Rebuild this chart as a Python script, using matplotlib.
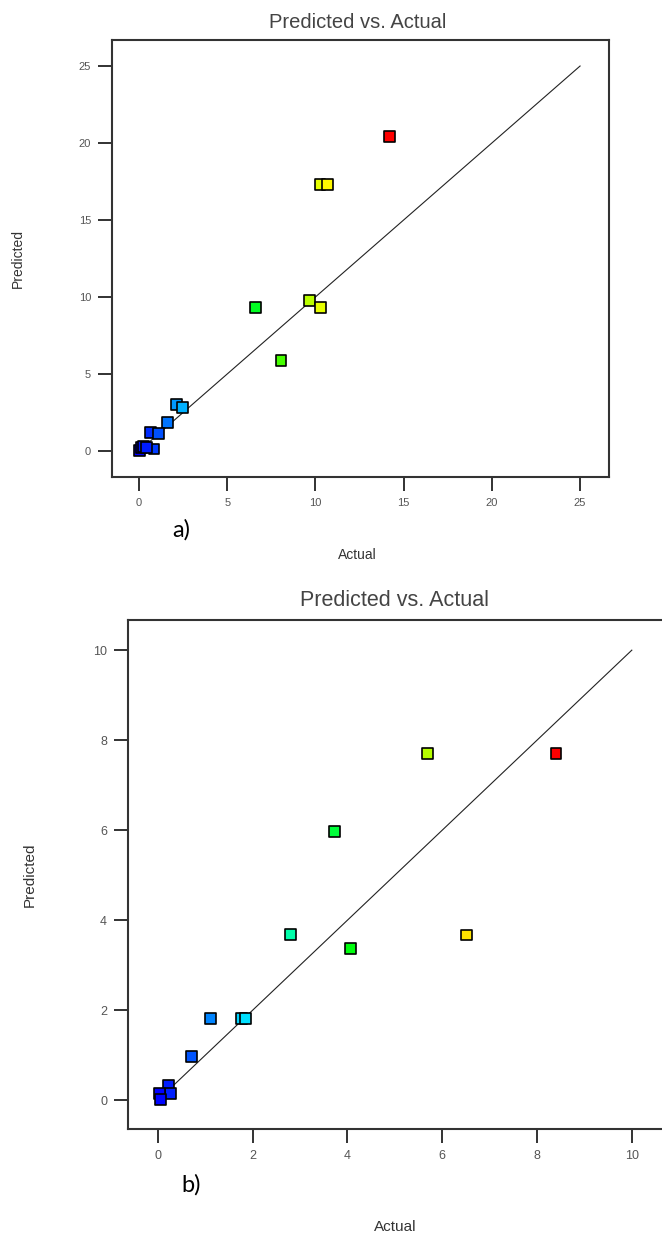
import numpy as np
import matplotlib.pyplot as plt
from matplotlib.colors import LinearSegmentedColormap

# panel a) actual vs predicted
actual_a = [14.19, 10.26, 10.71, 9.65, 10.30, 6.63, 8.05, 2.15, 2.44, 1.64,
            0.66, 1.13, 0.85, 0.02, 0.15, 0.28, 0.40]
pred_a = [20.41, 17.30, 17.30, 9.78, 9.30, 9.30, 5.90, 3.00, 2.84, 1.82,
          1.19, 1.12, 0.13, 0.06, 0.22, 0.28, 0.20]
ticks_a = [0, 5, 10, 15, 20, 25]

# panel b) actual vs predicted
actual_b = [8.40, 6.52, 5.68, 4.07, 3.72, 2.80, 1.11, 1.76, 1.84, 0.70,
            0.23, 0.27, 0.03, 0.05]
pred_b = [7.70, 3.67, 7.70, 3.38, 5.98, 3.68, 1.82, 1.81, 1.81, 0.98,
          0.32, 0.15, 0.15, 0.02]
ticks_b = [0, 2, 4, 6, 8, 10]

W, H = 662, 1235
fig = plt.figure(figsize=(W/100, H/100), dpi=100)

narrow = ['Liberation Sans', 'DejaVu Sans']
cmap = LinearSegmentedColormap.from_list(
    'de', ['#0000ff', '#00ffff', '#00ff00', '#ffff00', '#ff0000'])

def box(l, t, r, b):
    return [l/W, 1 - b/H, (r - l)/W, (b - t)/H]

def px(x, y):
    return x/W, 1 - y/H

def panel(rect, act, pred, ticks, xlim, ylim, tsize):
    ax = fig.add_axes(rect)
    ax.plot([0, ticks[-1]], [0, ticks[-1]], color='#222222', lw=0.8, zorder=1)
    ax.scatter(act, pred, c=act, cmap=cmap, vmin=0, vmax=max(act), marker='s',
               s=62, edgecolors='black', linewidths=1.2, zorder=2)
    ax.set_xlim(*xlim)
    ax.set_ylim(*ylim)
    ax.set_xticks(ticks)
    ax.set_yticks(ticks)
    ax.tick_params(direction='out', length=10, width=1.3, color='#222222',
                   labelcolor='#555555', labelsize=tsize, pad=5)
    for lab in ax.get_xticklabels() + ax.get_yticklabels():
        lab.set_family(narrow)
    for s in ax.spines.values():
        s.set_linewidth(1.5)
        s.set_color('#333333')
    return ax

panel(box(112, 40, 609, 477), actual_a, pred_a, ticks_a,
      (-1.53, 26.64), (-1.69, 26.69), 8)
panel(box(128, 620, 665, 1129), actual_b, pred_b, ticks_b,
      (-0.63, 10.70), (-0.64, 10.67), 9)

# titles and labels
fig.text(*px(358, 22), 'Predicted vs. Actual', ha='center', va='center',
         fontsize=14.5, color='#444444', family=narrow)
fig.text(*px(395, 601), 'Predicted vs. Actual', ha='center', va='center',
         fontsize=15.5, color='#444444', family=narrow)
fig.text(*px(18, 258), 'Predicted', ha='center', va='center', rotation=90,
         fontsize=10, color='#333333', family=narrow)
fig.text(*px(30, 875), 'Predicted', ha='center', va='center', rotation=90,
         fontsize=11, color='#333333', family=narrow)
fig.text(*px(357, 555), 'Actual', ha='center', va='center',
         fontsize=10, color='#333333', family=narrow)
fig.text(*px(395, 1227), 'Actual', ha='center', va='center',
         fontsize=11, color='#333333', family=narrow)
fig.text(*px(181, 530), 'a)', ha='center', va='center', fontsize=17,
         color='black', family=['Lato', 'DejaVu Sans'])
fig.text(*px(191, 1185), 'b)', ha='center', va='center', fontsize=17,
         color='black', family=['Lato', 'DejaVu Sans'])

fig.savefig('out.png', dpi=100)
